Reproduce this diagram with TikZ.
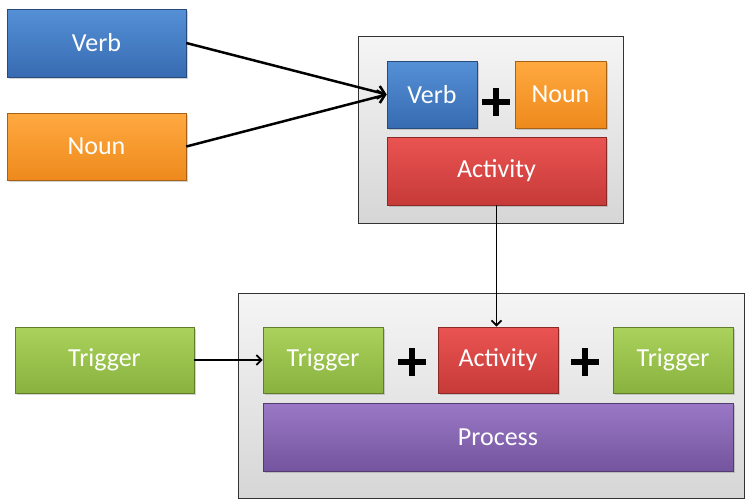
\documentclass[tikz,border=0pt]{standalone}
\usepackage{fontspec}
\setmainfont{Carlito}
\usetikzlibrary{arrows.meta,shadows}
\definecolor{bluetop}{HTML}{5590D6}
\definecolor{bluebot}{HTML}{376BB2}
\definecolor{orgtop}{HTML}{FFA940}
\definecolor{orgbot}{HTML}{EE8A1C}
\definecolor{redtop}{HTML}{EA5452}
\definecolor{redbot}{HTML}{C63A38}
\definecolor{grntop}{HTML}{AAD25C}
\definecolor{grnbot}{HTML}{88B23E}
\definecolor{purtop}{HTML}{9A78C6}
\definecolor{purbot}{HTML}{74549E}
\tikzset{
  box/.style={draw=#1!70!black, line width=0.6pt, font=\fontsize{26}{30}\selectfont, text=white,
    drop shadow={opacity=0.35, shadow xshift=1.5pt, shadow yshift=-2pt}},
  bluebox/.style={box=bluebot, top color=bluetop, bottom color=bluebot},
  orgbox/.style={box=orgbot, top color=orgtop, bottom color=orgbot},
  redbox/.style={box=redbot, top color=redtop, bottom color=redbot},
  grnbox/.style={box=grnbot, top color=grntop, bottom color=grnbot},
  purbox/.style={box=purbot, top color=purtop, bottom color=purbot},
  container/.style={draw=black!80, line width=0.8pt, top color=black!4, bottom color=black!16},
  plussign/.style={line width=6.5pt},
  conn/.style={line width=2.5pt, -{Straight Barb[length=7pt,width=13pt,line width=2.5pt]}},
  connthin/.style={line width=1.8pt, -{Straight Barb[length=5pt,width=10pt,line width=1.8pt]}}
}
\begin{document}
\begin{tikzpicture}[x=1pt,y=-1pt]
\useasboundingbox (0,0) rectangle (745,501);
% containers
\node[container, minimum width=265pt, minimum height=187pt] (topc) at (490.5,129.5) {};
\node[container, minimum width=506pt, minimum height=205pt] (botc) at (491,395.5) {};
% left boxes
\node[bluebox, minimum width=179pt, minimum height=68pt] (verb) at (96.5,43) {Verb};
\node[orgbox, minimum width=179pt, minimum height=67pt] (noun) at (96.5,146.5) {Noun};
\node[grnbox, minimum width=179pt, minimum height=66pt] (trig) at (104.5,360) {Trigger};
% top container content
\node[bluebox, minimum width=90pt, minimum height=67pt] (verb2) at (432,94.5) {Verb};
\node[orgbox, minimum width=91pt, minimum height=67pt] (noun2) at (560.5,94.5) {Noun};
\node[redbox, minimum width=219pt, minimum height=68pt] (act1) at (496.5,171) {Activity};
\coordinate (p1) at (496,102);
\draw[plussign] ([xshift=-14pt]p1) -- ([xshift=14pt]p1) ([yshift=-14pt]p1) -- ([yshift=14pt]p1);
% bottom container content
\node[grnbox, minimum width=120pt, minimum height=66pt] (trig2) at (323,360) {Trigger};
\node[redbox, minimum width=120pt, minimum height=66pt] (act2) at (498,360) {Activity};
\node[grnbox, minimum width=120pt, minimum height=66pt] (trig3) at (673,360) {Trigger};
\node[purbox, minimum width=470pt, minimum height=68pt] (proc) at (498,437) {Process};
\coordinate (p2) at (412,362);
\coordinate (p3) at (585,362);
\draw[plussign] ([xshift=-14pt]p2) -- ([xshift=14pt]p2) ([yshift=-14pt]p2) -- ([yshift=14pt]p2);
\draw[plussign] ([xshift=-14pt]p3) -- ([xshift=14pt]p3) ([yshift=-14pt]p3) -- ([yshift=14pt]p3);
% connectors
\draw[conn] (verb.east) -- (verb2.west);
\draw[conn] (noun.east) -- (verb2.west);
\draw[connthin] (act1.south) -- (act1.south |- act2.north);
\draw[connthin] (trig.east) -- (trig2.west);
\end{tikzpicture}
\end{document}
